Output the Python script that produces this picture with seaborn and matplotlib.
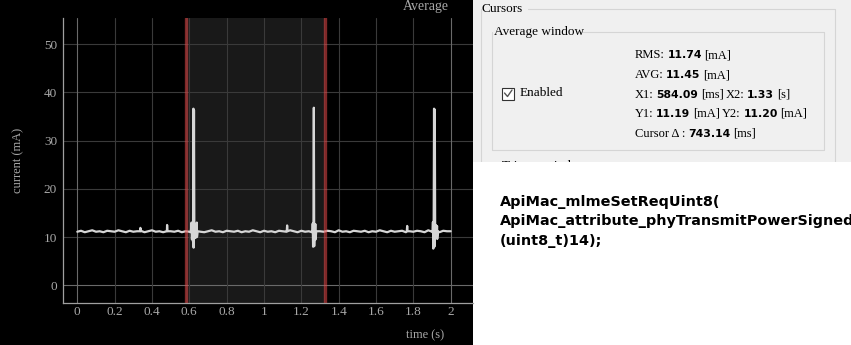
import numpy as np
import pandas as pd
import matplotlib
matplotlib.use("Agg")
import matplotlib.pyplot as plt
import seaborn as sns
from matplotlib.patches import Rectangle
from matplotlib.offsetbox import TextArea, HPacker, AnnotationBbox

# ---------------- data ----------------
baseline_t = [0.00, 0.02, 0.04, 0.06, 0.08, 0.10, 0.12, 0.14, 0.16, 0.18,
              0.20, 0.22, 0.24, 0.26, 0.28, 0.30, 0.32, 0.34, 0.36, 0.38,
              0.40, 0.42, 0.44, 0.46, 0.48, 0.50, 0.52, 0.54, 0.56, 0.58,
              0.60, 0.62, 0.64, 0.66, 0.68, 0.70, 0.72, 0.74, 0.76, 0.78,
              0.80, 0.82, 0.84, 0.86, 0.88, 0.90, 0.92, 0.94, 0.96, 0.98,
              1.00, 1.02, 1.04, 1.06, 1.08, 1.10, 1.12, 1.14, 1.16, 1.18,
              1.20, 1.22, 1.24, 1.26, 1.28, 1.30, 1.32, 1.34, 1.36, 1.38,
              1.40, 1.42, 1.44, 1.46, 1.48, 1.50, 1.52, 1.54, 1.56, 1.58,
              1.60, 1.62, 1.64, 1.66, 1.68, 1.70, 1.72, 1.74, 1.76, 1.78,
              1.80, 1.82, 1.84, 1.86, 1.88, 1.90, 1.92, 1.94, 1.96, 1.98,
              2.00]
baseline_mA = [11.1, 11.3, 11.0, 11.2, 11.4, 11.1, 11.2, 11.0, 11.3, 11.2,
               11.1, 11.4, 11.2, 11.0, 11.3, 11.1, 11.2, 11.3, 11.0, 11.2,
               11.4, 11.1, 11.2, 11.0, 11.3, 11.2, 11.1, 11.3, 11.0, 11.2,
               11.1, 11.2, 11.3, 11.1, 11.0, 11.2, 11.4, 11.1, 11.2, 11.0,
               11.3, 11.2, 11.1, 11.3, 11.0, 11.2, 11.1, 11.4, 11.2, 11.0,
               11.3, 11.1, 11.2, 11.0, 11.3, 11.2, 11.1, 11.4, 11.2, 11.0,
               11.3, 11.1, 11.2, 11.3, 11.0, 11.2, 11.1, 11.3, 11.2, 11.0,
               11.4, 11.1, 11.2, 11.0, 11.3, 11.2, 11.1, 11.3, 11.0, 11.2,
               11.1, 11.4, 11.2, 11.0, 11.3, 11.1, 11.2, 11.3, 11.0, 11.2,
               11.1, 11.3, 11.2, 11.0, 11.4, 11.1, 11.2, 11.0, 11.3, 11.2,
               11.2]

# transmit bursts and small glitches
event_t = [0.336, 0.338, 0.340,
           0.479, 0.481, 0.483,
           0.608, 0.612, 0.614, 0.617, 0.620, 0.622, 0.623, 0.625, 0.627,
           0.630, 0.633, 0.639, 0.640, 0.641, 0.645,
           1.122, 1.124, 1.126,
           1.258, 1.261, 1.263, 1.265, 1.267, 1.269, 1.271, 1.274, 1.275,
           1.276, 1.280,
           1.765, 1.767, 1.769,
           1.903, 1.905, 1.907, 1.909, 1.911, 1.913, 1.915, 1.917, 1.920,
           1.926, 1.927, 1.928, 1.932]
event_mA = [11.2, 11.9, 11.2,
            11.2, 12.5, 11.2,
            11.0, 13.0, 9.5, 12.8, 9.0, 36.6, 7.8, 36.3, 10.5,
            12.5, 9.8, 11.2, 13.0, 10.0, 11.2,
            11.2, 12.4, 11.2,
            11.0, 12.8, 8.0, 12.9, 36.8, 8.1, 11.5, 11.2, 12.7,
            9.5, 11.2,
            11.2, 12.3, 11.2,
            11.0, 13.1, 7.6, 12.9, 36.6, 8.0, 36.4, 10.5, 12.5,
            11.2, 12.3, 9.6, 11.2]

cursor_x1 = 0.58409
cursor_x2 = 1.32723

x_ticks = [0, 0.2, 0.4, 0.6, 0.8, 1.0, 1.2, 1.4, 1.6, 1.8, 2.0]
x_tick_labels = ["0", "0.2", "0.4", "0.6", "0.8", "1", "1.2", "1.4", "1.6", "1.8", "2"]
y_ticks = [0, 10, 20, 30, 40, 50]
y_tick_labels = ["0", "10", "20", "30", "40", "50"]

stats_lines = [
    [("RMS:", False), ("11.74", True), ("[mA]", False)],
    [("AVG:", False), ("11.45", True), ("[mA]", False)],
    [("X1:", False), ("584.09", True), ("[ms]", False), ("X2:", False), ("1.33", True), ("[s]", False)],
    [("Y1:", False), ("11.19", True), ("[mA]", False), ("Y2:", False), ("11.20", True), ("[mA]", False)],
    [("Cursor \u0394 :", False), ("743.14", True), ("[ms]", False)],
]
code_lines = ["ApiMac_mlmeSetReqUint8(",
              "ApiMac_attribute_phyTransmitPowerSigned,",
              "(uint8_t)14);"]

df = pd.DataFrame({"t": baseline_t + event_t, "mA": baseline_mA + event_mA})
df = df.sort_values("t").reset_index(drop=True)

# ---------------- figure ----------------
sns.set_style("dark")
plt.rcParams["font.family"] = ["Liberation Serif", "DejaVu Serif"]

W, H = 851, 345
fig = plt.figure(figsize=(W / 100, H / 100), dpi=100)
fig.patch.set_facecolor("white")

# background / screen-layout axes in pixel coordinates
bg = fig.add_axes([0, 0, 1, 1])
bg.set_xlim(0, W)
bg.set_ylim(H, 0)
bg.axis("off")
bg.set_zorder(0)
bg.add_patch(Rectangle((0, 0), 473, H, facecolor="black", edgecolor="none", zorder=0))
bg.add_patch(Rectangle((473, 0), W - 473, 161.5, facecolor="#f0f0f0", edgecolor="none", zorder=0))

# main chart
L, R, T, B = 63.3, 472.7, 18.0, 303.3
ax = fig.add_axes([L / W, (H - B) / H, (R - L) / W, (B - T) / H])
ax.set_zorder(1)
ax.set_facecolor("black")

ax.axvspan(cursor_x1, cursor_x2, color="#191919", zorder=0, lw=0)
for yv in y_ticks:
    ax.axhline(yv, color="#6a6a6a" if yv == 0 else "#3a3a3a", lw=0.8, zorder=1)
for xv in x_ticks:
    ax.axvline(xv, color="#6a6a6a" if xv in (0, 2.0) else "#3a3a3a", lw=0.8, zorder=1)

sns.lineplot(data=df, x="t", y="mA", ax=ax, color="#d6d6d6", lw=1.6,
             estimator=None, sort=True, zorder=3)

for cx in (cursor_x1, cursor_x2):
    ax.axvline(cx, color="#e84a4a", alpha=0.55, lw=2.4, zorder=4)

ax.set_xlim(-0.075, 2.118)
ax.set_ylim(-3.73, 55.39)
ax.set_xticks(x_ticks)
ax.set_xticklabels(x_tick_labels)
ax.set_yticks(y_ticks)
ax.set_yticklabels(y_tick_labels)
ax.tick_params(axis="x", length=0, pad=2, colors="#a8a8a8", labelsize=9.5)
ax.tick_params(axis="y", length=0, pad=4.5, colors="#a8a8a8", labelsize=9.5)
ax.grid(False)
for side in ("top", "right"):
    ax.spines[side].set_visible(False)
for side in ("left", "bottom"):
    ax.spines[side].set_visible(True)
    ax.spines[side].set_color("#a0a0a0")
    ax.spines[side].set_linewidth(0.9)

ax.set_xlabel("")
ax.set_ylabel("")
ax.text(-0.1107, 0.502, "current (mA)", transform=ax.transAxes, rotation=90,
        ha="center", va="center", color="#a8a8a8", fontsize=9)
ax.text(0.8835, -0.111, "time (s)", transform=ax.transAxes,
        ha="center", va="center", color="#a8a8a8", fontsize=9)
ax.text(0.885, 1.042, "Average", transform=ax.transAxes,
        ha="center", va="center", color="#a8a8a8", fontsize=10)

# ---------------- right-hand panel ----------------
box_c = "#d5d5d5"
# "Cursors" group
bg.plot([528, 835], [9, 9], color=box_c, lw=0.8)
bg.plot([481, 481], [9, 161.5], color=box_c, lw=0.8)
bg.plot([835, 835], [9, 161.5], color=box_c, lw=0.8)
bg.text(482, 9, "Cursors", ha="left", va="center", fontsize=9.5, color="black")
# "Average window" group
bg.plot([581, 824], [32, 32], color=box_c, lw=0.8)
bg.plot([492, 492], [32, 149.5], color=box_c, lw=0.8)
bg.plot([824, 824], [32, 149.5], color=box_c, lw=0.8)
bg.plot([492, 824], [149.5, 149.5], color=box_c, lw=0.8)
bg.text(494, 32, "Average window", ha="left", va="center", fontsize=9.5, color="black")

# checkbox
bg.add_patch(Rectangle((502, 87.5), 12, 12, facecolor="white", edgecolor="#333333", lw=0.8))
bg.plot([504.5, 507.5, 512], [93, 96.5, 90], color="#555555", lw=1.0)
bg.text(520, 93.5, "Enabled", ha="left", va="center", fontsize=9.5, color="black")

# statistics lines
line_y = [55, 75, 94.5, 114, 134]
for yy, parts in zip(line_y, stats_lines):
    children = []
    for txt, bold in parts:
        if bold:
            props = dict(fontfamily="DejaVu Sans", fontweight="bold", fontsize=7.8, color="black")
        else:
            props = dict(fontfamily="Liberation Serif", fontsize=9, color="black")
        children.append(TextArea(txt, textprops=props))
    pack = HPacker(children=children, align="baseline", pad=0, sep=1.8)
    ab = AnnotationBbox(pack, (635, yy), xycoords="data", box_alignment=(0, 0.5),
                        frameon=False, pad=0)
    bg.add_artist(ab)

bg.text(502, 166, "Trigger window", ha="left", va="center", fontsize=9.5, color="black",
        zorder=1)
# white page below the panel (hides the cut-off part of the next group title)
bg.add_patch(Rectangle((473, 161.5), W - 473, H - 161.5, facecolor="white",
                       edgecolor="none", zorder=5))

# code snippet (runs past the right edge of the screenshot, as in the original)
for i, line in enumerate(code_lines):
    bg.text(500, 206 + i * 19.5, line, ha="left", va="baseline",
            fontfamily="DejaVu Sans", fontweight="bold", fontsize=10.4, color="black",
            zorder=6)

fig.savefig("out.png", dpi=100, facecolor=fig.get_facecolor())
